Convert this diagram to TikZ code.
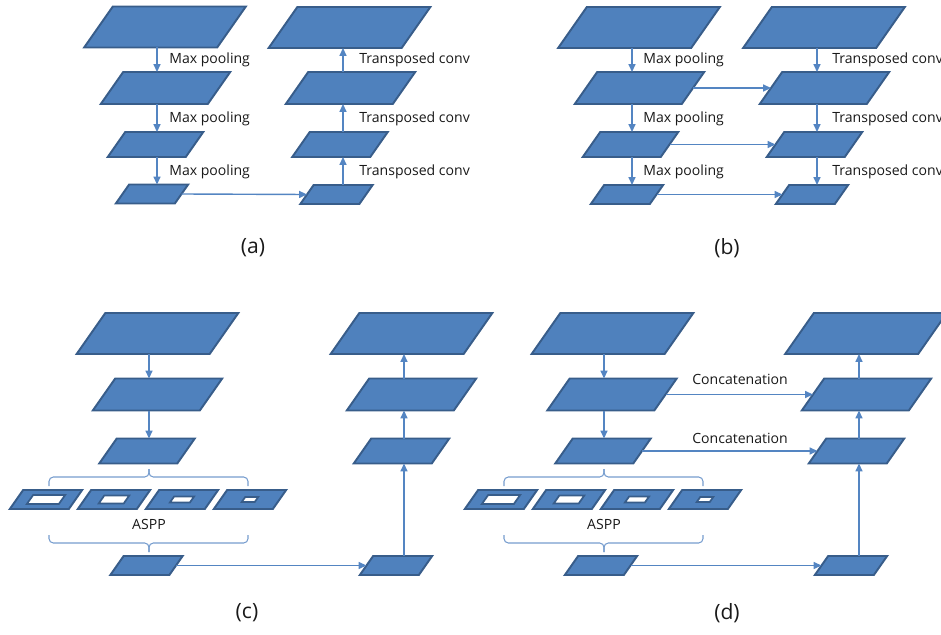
\documentclass[tikz,border=0pt]{standalone}
\usepackage{fontspec}
\setmainfont{Open Sans}
\usetikzlibrary{arrows.meta}
\definecolor{boxblue}{HTML}{4F81BD}
\definecolor{boxline}{HTML}{385D8A}
\definecolor{linkblue}{HTML}{5485C2}
\newcommand{\pxl}{0.02cm}
\begin{document}
\begin{tikzpicture}[x=0.02cm, y=-0.02cm,
  layer/.style 2 args={draw=boxline, fill=boxblue, line width=1.1pt, xslant=0.7,
    minimum width=#1*\pxl, minimum height=#2*\pxl, inner sep=0pt, outer sep=0pt},
  big/.style={layer={133}{41}},
  mid/.style={layer={107}{32}},
  small/.style={layer={78}{25}},
  tiny/.style={layer={59}{19}},
  hole/.style 2 args={draw=boxline, fill=white, line width=1pt, xslant=0.7,
    minimum width=#1*\pxl, minimum height=#2*\pxl, inner sep=0pt, outer sep=0pt},
  link/.style={draw=linkblue, line width=0.8pt, -{Triangle[length=4.5pt,width=4pt]}},
  brace/.style={draw=linkblue!80, line width=0.6pt, rounded corners=2.5pt},
  lbl/.style={font=\fontsize{8}{9.6}\selectfont, text=black!90, inner sep=0pt, anchor=west},
  paneltag/.style={font=\fontsize{12}{14}\selectfont, text=black!90, inner sep=0pt}]
\useasboundingbox (0,0) rectangle (941,635);

\coordinate (aLx) at (157,0);
\coordinate (aRx) at (343,0);
\coordinate (bLx) at (632,0);
\coordinate (bRx) at (817,0);
\coordinate (cLx) at (149,0);
\coordinate (cRx) at (404,0);
\coordinate (dLx) at (604,0);
\coordinate (dRx) at (859,0);

\node[big] (aL1) at (165,27) {};
\node[mid] (aL2) at (165.5,88) {};
\node[small] (aL3) at (155.5,144.5) {};
\node[tiny] (aL4) at (152,194) {};
\node[big] (aR1) at (349.5,27.5) {};
\node[mid] (aR2) at (350.5,88) {};
\node[small] (aR3) at (340,144.5) {};
\node[tiny] (aR4) at (336.5,194.5) {};
\draw[link] (aL1.south -| aLx) -- (aL2.north -| aLx);
\draw[link] (aL2.south -| aLx) -- (aL3.north -| aLx);
\draw[link] (aL3.south -| aLx) -- (aL4.north -| aLx);
\draw[link] (aL4.east) -- (aR4.west);
\draw[link] (aR4.north -| aRx) -- (aR3.south -| aRx);
\draw[link] (aR3.north -| aRx) -- (aR2.south -| aRx);
\draw[link] (aR2.north -| aRx) -- (aR1.south -| aRx);
\node[lbl] (aMP1) at (169,60) {Max pooling};
\node[lbl] (aMP2) at (169,119) {Max pooling};
\node[lbl] (aMP3) at (169,172) {Max pooling};
\node[lbl] (aTC1) at (359,60) {Transposed conv};
\node[lbl] (aTC2) at (359,119) {Transposed conv};
\node[lbl] (aTC3) at (359,172) {Transposed conv};
\node[paneltag] (aTag) at (253,248) {(a)};

\node[big] (bL1) at (639,27.5) {};
\node[mid] (bL2) at (639.5,88) {};
\node[small] (bL3) at (630.5,144.5) {};
\node[tiny] (bL4) at (627,194.5) {};
\node[big] (bR1) at (824,27.5) {};
\node[mid] (bR2) at (824.5,88) {};
\node[small] (bR3) at (814.5,144.5) {};
\node[tiny] (bR4) at (812,194.5) {};
\draw[link] (bL1.south -| bLx) -- (bL2.north -| bLx);
\draw[link] (bL2.south -| bLx) -- (bL3.north -| bLx);
\draw[link] (bL3.south -| bLx) -- (bL4.north -| bLx);
\draw[link] (bR1.south -| bRx) -- (bR2.north -| bRx);
\draw[link] (bR2.south -| bRx) -- (bR3.north -| bRx);
\draw[link] (bR3.south -| bRx) -- (bR4.north -| bRx);
\draw[link] (bL2.east) -- (bR2.west);
\draw[link] (bL3.east) -- (bR3.west);
\draw[link] (bL4.east) -- (bR4.west);
\node[lbl] (bMP1) at (643,60) {Max pooling};
\node[lbl] (bMP2) at (643,119) {Max pooling};
\node[lbl] (bMP3) at (643,172) {Max pooling};
\node[lbl] (bTC1) at (832,60) {Transposed conv};
\node[lbl] (bTC2) at (832,119) {Transposed conv};
\node[lbl] (bTC3) at (832,172) {Transposed conv};
\node[paneltag] (bTag) at (727,248) {(b)};

\node[big] (cL1) at (157.5,333.5) {};
\node[mid] (cL2) at (157.5,394.5) {};
\node[small] (cL3) at (147,451) {};
\node[tiny] (cA1) at (46,499.5) {};
\node[tiny] (cA2) at (114,499.5) {};
\node[tiny] (cA3) at (182,499.5) {};
\node[tiny] (cA4) at (250,499.5) {};
\node[hole={32}{9}] (cH1) at (cA1) {};
\node[hole={25}{8}] (cH2) at (cA2) {};
\node[hole={20}{6}] (cH3) at (cA3) {};
\node[hole={13}{5}] (cH4) at (cA4) {};
\node[tiny] (cL4) at (146.5,565.5) {};
\node[big] (cR1) at (411.5,333.5) {};
\node[mid] (cR2) at (411.5,394.5) {};
\node[small] (cR3) at (401.5,451) {};
\node[tiny] (cR4) at (396,565.5) {};
\draw[brace] (49,486) -- (49,477) -- (149,477) -- (149,469);
\draw[brace] (248,486) -- (248,477) -- (149,477) -- (149,469);
\draw[brace] (49,535) -- (49,543) -- (149,543) -- (149,552);
\draw[brace] (248,535) -- (248,543) -- (149,543) -- (149,552);
\draw[link] (cL1.south -| cLx) -- (cL2.north -| cLx);
\draw[link] (cL2.south -| cLx) -- (cL3.north -| cLx);
\draw[link] (cL4.east) -- (cR4.west);
\draw[link] (cR4.north -| cRx) -- (cR3.south -| cRx);
\draw[link] (cR3.north -| cRx) -- (cR2.south -| cRx);
\draw[link] (cR2.north -| cRx) -- (cR1.south -| cRx);
\node[lbl, anchor=center] (cASPP) at (149,524) {ASPP};
\node[paneltag] (cTag) at (247,613) {(c)};

\node[big] (dL1) at (612.5,333.5) {};
\node[mid] (dL2) at (612,394.5) {};
\node[small] (dL3) at (603,451) {};
\node[tiny] (dA1) at (501,499.5) {};
\node[tiny] (dA2) at (569,499.5) {};
\node[tiny] (dA3) at (637,499.5) {};
\node[tiny] (dA4) at (705,499.5) {};
\node[hole={32}{9}] (dH1) at (dA1) {};
\node[hole={25}{8}] (dH2) at (dA2) {};
\node[hole={20}{6}] (dH3) at (dA3) {};
\node[hole={13}{5}] (dH4) at (dA4) {};
\node[tiny] (dL4) at (601,565.5) {};
\node[big] (dR1) at (866,333.5) {};
\node[mid] (dR2) at (866.5,394.5) {};
\node[small] (dR3) at (856.5,451) {};
\node[tiny] (dR4) at (851,565.5) {};
\draw[brace] (504,486) -- (504,477) -- (604,477) -- (604,469);
\draw[brace] (703,486) -- (703,477) -- (604,477) -- (604,469);
\draw[brace] (504,535) -- (504,543) -- (604,543) -- (604,552);
\draw[brace] (703,535) -- (703,543) -- (604,543) -- (604,552);
\draw[link] (dL1.south -| dLx) -- (dL2.north -| dLx);
\draw[link] (dL2.south -| dLx) -- (dL3.north -| dLx);
\draw[link] (dL2.east) -- (dR2.west);
\draw[link] (dL3.east) -- (dR3.west);
\draw[link] (dL4.east) -- (dR4.west);
\draw[link] (dR4.north -| dRx) -- (dR3.south -| dRx);
\draw[link] (dR3.north -| dRx) -- (dR2.south -| dRx);
\draw[link] (dR2.north -| dRx) -- (dR1.south -| dRx);
\node[lbl] (dCC1) at (692,379) {Concatenation};
\node[lbl] (dCC2) at (692,438) {Concatenation};
\node[lbl, anchor=center] (dASPP) at (604,524) {ASPP};
\node[paneltag] (dTag) at (727,613) {(d)};
\end{tikzpicture}
\end{document}
